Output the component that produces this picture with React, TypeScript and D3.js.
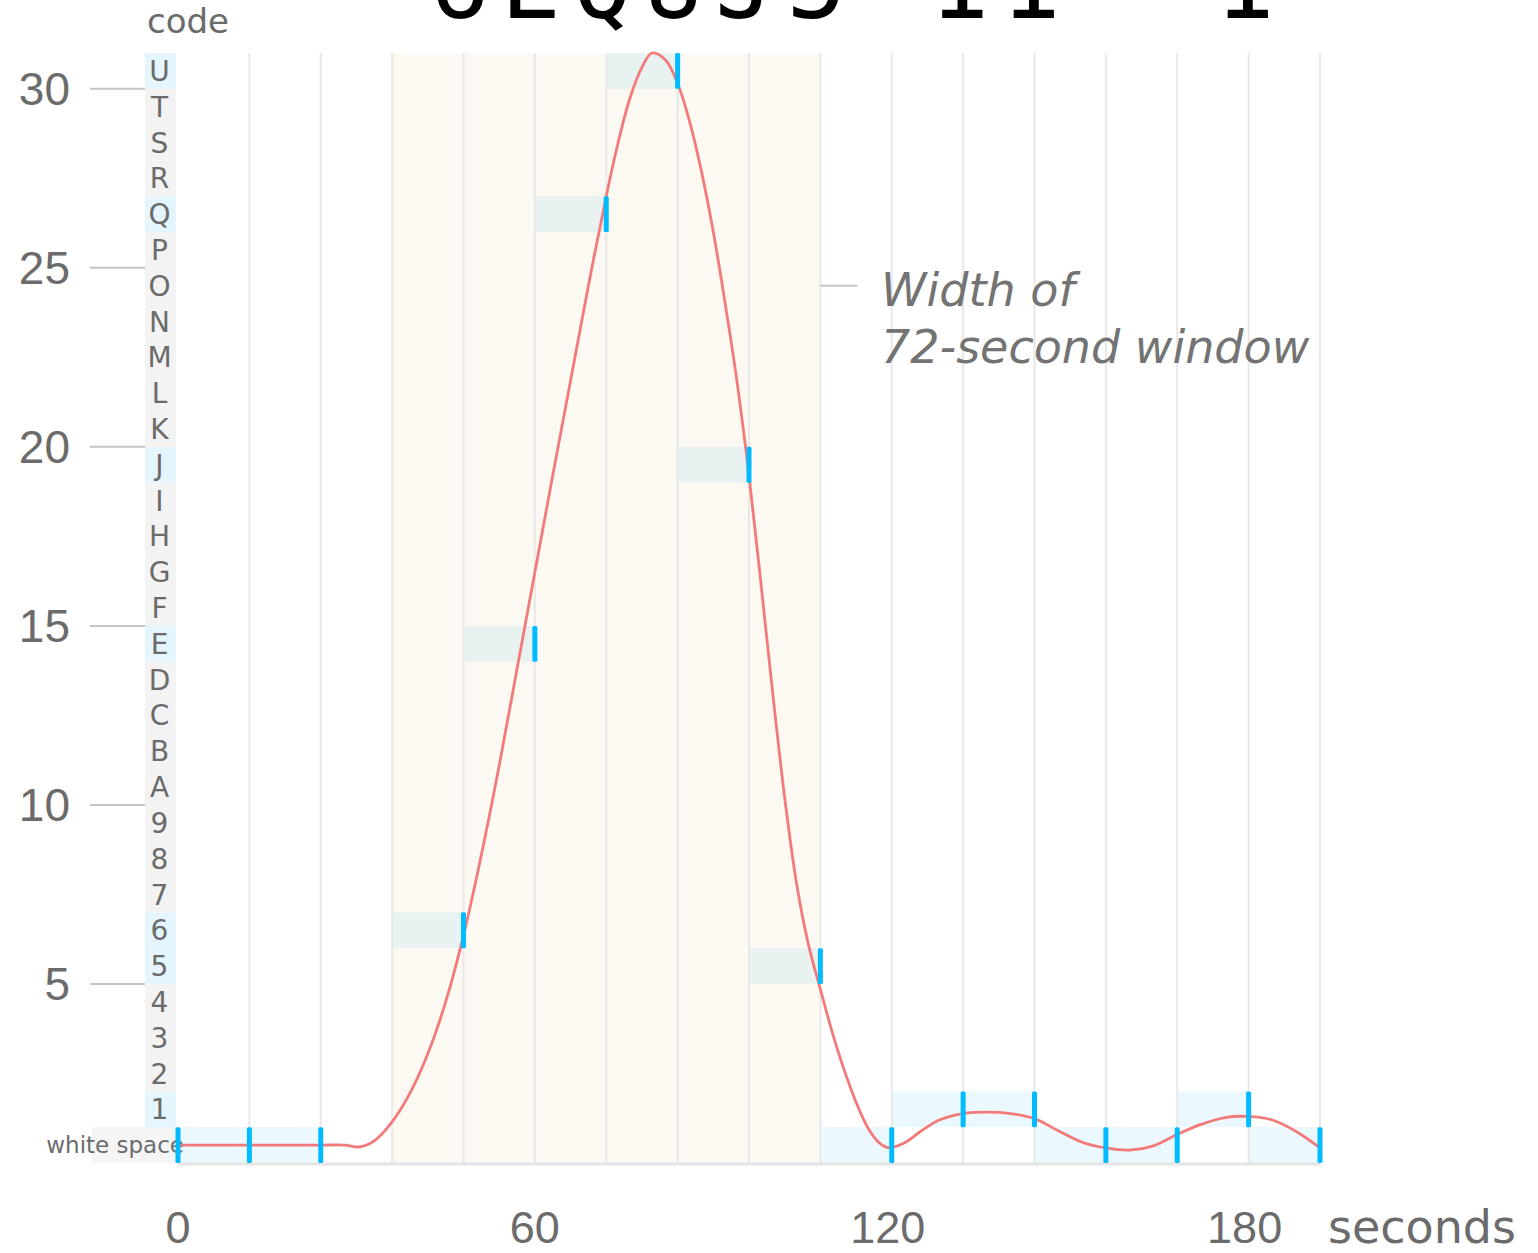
import React from "react";
import * as d3 from "d3";

// Code alphabet: band 0 is white space, then digits, then letters up to U.
const codeLabels = [
  "white space",
  "1", "2", "3", "4", "5", "6", "7", "8", "9",
  "A", "B", "C", "D", "E", "F", "G", "H", "I", "J", "K",
  "L", "M", "N", "O", "P", "Q", "R", "S", "T", "U",
];

// Sampled characters, one every 12 seconds (" " = white space; 36 s has no sample).
const sampleTimes = [0, 12, 24, 48, 60, 72, 84, 96, 108, 120, 132, 144, 156, 168, 180, 192];
const sampleChars = [" ", " ", " ", "6", "E", "Q", "U", "J", "5", " ", "1", "1", " ", " ", "1", " "];

// Smoothed intensity signal (seconds, intensity).
const signalTimes = [
  0, 12, 24, 28, 30.5, 33, 36, 39, 42, 45, 48, 51, 54, 57, 60, 63, 66, 69, 72, 74, 76, 78,
  79.7, 82, 84, 86, 88, 90, 92, 94, 96, 98, 100, 102, 104, 106, 108, 110, 112, 114, 116, 118,
  119.5, 122, 125, 128, 132, 136, 140, 144, 148, 152, 156, 160, 164, 168, 172, 176, 180, 184,
  188, 192,
];
const signalValues = [
  0.5, 0.5, 0.5, 0.5, 0.45, 0.62, 1.15, 1.95, 3.05, 4.5, 6.35, 8.6, 11.1, 13.8, 16.5, 19.2, 21.85, 24.5, 27.0, 28.5, 29.75, 30.6,
  31.0, 30.8, 30.15, 29.1, 27.7, 26.0, 24.0, 21.8, 19.2, 16.2, 13.1, 10.2, 7.8, 6.1, 4.85, 3.65, 2.6, 1.7, 0.98, 0.55,
  0.43, 0.55, 0.9, 1.2, 1.38, 1.42, 1.38, 1.24, 0.9, 0.58, 0.42, 0.36, 0.48, 0.8, 1.08, 1.27, 1.3, 1.2,
  0.88, 0.42,
];

const yTickValues = [5, 10, 15, 20, 25, 30];
const xTickValues = [0, 60, 120, 180];
const windowStart = 36;
const windowEnd = 108;
const sampleStep = 12;

const W = 1538;
const H = 1253;

export default function App() {
  const x = d3.scaleLinear().domain([0, 192]).range([178, 1320]);
  const y = d3.scaleLinear().domain([0, 31]).range([1163, 53]);
  const bandH = y(0) - y(1);

  const samples = sampleTimes.map((t, i) => {
    const ch = sampleChars[i];
    const code = ch === " " ? 0 : codeLabels.indexOf(ch);
    return { t, ch, code };
  });
  const usedCodes = new Set(samples.map((s) => s.code));

  const line = d3
    .line<number>()
    .x((_, i) => x(signalTimes[i]))
    .y((v) => y(v))
    .curve(d3.curveCatmullRom.alpha(0.5));

  const gridTimes = d3.range(sampleStep, 192 + 1, sampleStep);
  const gray = "#6b6b6b";
  const sans = "'DejaVu Sans', sans-serif";
  const numFont = "'Liberation Sans', Arial, sans-serif";

  return (
    <svg
      width={W}
      height={H}
      viewBox={`0 0 ${W} ${H}`}
      style={{ position: "absolute", left: 0, top: 0, display: "block", background: "#fff" }}
    >
      {/* 72-second window */}
      <rect
        x={x(windowStart)}
        y={y(31)}
        width={x(windowEnd) - x(windowStart)}
        height={y(0) - y(31)}
        fill="#fcf9f2"
      />

      {/* held sample bands */}
      {samples
        .filter((s) => s.t > 0)
        .map((s, i) => (
          <rect
            key={`hold-${i}`}
            x={x(Math.max(0, s.t - sampleStep))}
            y={y(s.code + 1)}
            width={x(s.t) - x(Math.max(0, s.t - sampleStep))}
            height={bandH}
            fill="rgb(0,170,235)"
            fillOpacity={0.08}
          />
        ))}

      {/* vertical grid */}
      {gridTimes.map((t) => (
        <line
          key={`g-${t}`}
          x1={x(t)}
          x2={x(t)}
          y1={y(31)}
          y2={y(0)}
          stroke="#e8e8e8"
          strokeWidth={2}
        />
      ))}
      <line x1={x(0)} x2={x(192)} y1={y(0) + 1} y2={y(0) + 1} stroke="#e4e4e4" strokeWidth={3} />

      {/* code column */}
      {codeLabels.map((lab, i) => {
        const isWs = i === 0;
        const fill = isWs ? "#f5f5f5" : usedCodes.has(i) ? "#e5f5fd" : "#f3f3f3";
        return (
          <g key={`c-${i}`}>
            <rect
              x={isWs ? 92 : 145}
              y={y(i + 1)}
              width={isWs ? 84 : 31}
              height={bandH}
              fill={fill}
            />
            <text
              x={isWs ? 184 : 159.5}
              y={y(i + 0.5)}
              dy="0.36em"
              textAnchor={isWs ? "end" : "middle"}
              fontFamily={sans}
              fontSize={isWs ? 23 : 28}
              fill={gray}
            >
              {lab}
            </text>
          </g>
        );
      })}
      <text x={147} y={33} fontFamily={sans} fontSize={34} fill={gray}>
        code
      </text>

      {/* y axis */}
      {yTickValues.map((v) => (
        <g key={`y-${v}`}>
          <line x1={90} x2={145} y1={y(v)} y2={y(v)} stroke="#c4c4c4" strokeWidth={2} />
          <text
            x={70}
            y={y(v)}
            dy="0.35em"
            textAnchor="end"
            fontFamily={numFont}
            fontSize={46}
            fill={gray}
          >
            {v}
          </text>
        </g>
      ))}

      {/* x axis */}
      {xTickValues.map((t) => (
        <text
          key={`x-${t}`}
          x={x(t) - (t >= 100 ? 4 : 0)}
          y={1243}
          textAnchor="middle"
          fontFamily={numFont}
          fontSize={45}
          fill={gray}
        >
          {t}
        </text>
      ))}
      <text x={1328} y={1243} fontFamily={sans} fontSize={46} fill={gray}>
        seconds
      </text>

      {/* window annotation */}
      <line
        x1={x(windowEnd)}
        x2={x(windowEnd) + 37}
        y1={y(24.5)}
        y2={y(24.5)}
        stroke="#c4c4c4"
        strokeWidth={2}
      />
      <text fontFamily={sans} fontStyle="italic" fontSize={46} fill="#737373">
        <tspan x={881} y={306}>Width of</tspan>
        <tspan x={881} y={363}>{`${windowEnd - windowStart}-second window`}</tspan>
      </text>

      {/* signal */}
      <path d={line(signalValues) ?? ""} fill="none" stroke="#f37a7a" strokeWidth={2.8} />

      {/* sample ticks */}
      {samples.map((s, i) => (
        <rect
          key={`tick-${i}`}
          x={x(s.t) - 2.5}
          y={y(s.code + 1)}
          width={5}
          height={bandH}
          rx={1.5}
          fill="#00bcff"
        />
      ))}

      {/* decoded sequence */}
      {samples
        .filter((s) => s.ch !== " ")
        .map((s, i) => (
          <text
            key={`ch-${i}`}
            x={x(s.t) - 4}
            y={18}
            textAnchor="middle"
            fontFamily="'DejaVu Sans Mono', monospace"
            fontSize={100}
            fill="#000"
          >
            {s.ch}
          </text>
        ))}
    </svg>
  );
}
